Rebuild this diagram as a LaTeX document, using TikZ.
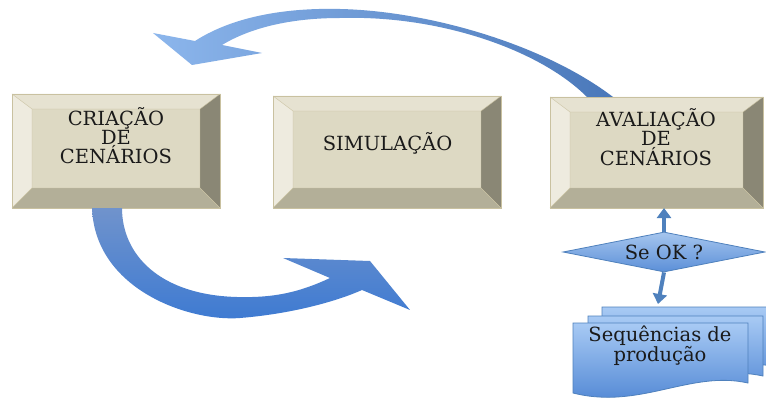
\documentclass[tikz,border=0pt]{standalone}
\usepackage{fontspec}
\setmainfont{DejaVu Serif}
\usetikzlibrary{calc,shapes.geometric,arrows.meta}
\definecolor{face}{HTML}{DDD9C3}
\definecolor{bvtop}{HTML}{E6E2D1}
\definecolor{bvleft}{HTML}{EEEBDF}
\definecolor{bvright}{HTML}{8A8775}
\definecolor{bvbot}{HTML}{B3AF98}
\definecolor{bvline}{HTML}{C9C1A0}
\definecolor{txt}{HTML}{1A1A1A}
\definecolor{arr}{HTML}{4F81BD}
\definecolor{dlight}{HTML}{A6C6EE}
\definecolor{ddark}{HTML}{5B8FD8}
\definecolor{doclight}{HTML}{A8CAF4}
\definecolor{docdark}{HTML}{4A82D2}
\definecolor{bigA}{HTML}{8CB6EC}
\definecolor{bigB}{HTML}{4A78BA}
\definecolor{bigC}{HTML}{7093CC}
\definecolor{bigD}{HTML}{3D7AD2}
\newcommand\bevelbox[1]{%
  \coordinate (#1-a) at (#1.north west);
  \coordinate (#1-b) at (#1.north east);
  \coordinate (#1-c) at (#1.south east);
  \coordinate (#1-d) at (#1.south west);
  \coordinate (#1-A) at ($(#1.north west)+(20,15)$);
  \coordinate (#1-B) at ($(#1.north east)+(-20,15)$);
  \coordinate (#1-C) at ($(#1.south east)+(-20,-20)$);
  \coordinate (#1-D) at ($(#1.south west)+(20,-20)$);
  \fill[bvtop] (#1-a) -- (#1-b) -- (#1-B) -- (#1-A) -- cycle;
  \fill[bvleft] (#1-a) -- (#1-A) -- (#1-D) -- (#1-d) -- cycle;
  \fill[bvright] (#1-b) -- (#1-c) -- (#1-C) -- (#1-B) -- cycle;
  \fill[bvbot] (#1-d) -- (#1-D) -- (#1-C) -- (#1-c) -- cycle;
  \fill[face] (#1-A) -- (#1-B) -- (#1-C) -- (#1-D) -- cycle;
  \draw[bvline, line width=0.6pt] (#1-a) -- (#1-b) -- (#1-c) -- (#1-d) -- cycle;
  \draw[bvline, line width=0.4pt] (#1-A) -- (#1-B) -- (#1-C) -- (#1-D) -- cycle
    (#1-a) -- (#1-A) (#1-b) -- (#1-B) (#1-c) -- (#1-C) (#1-d) -- (#1-D);
}
\tikzset{
  boxnode/.style={rectangle, inner sep=0pt, outer sep=0pt},
  boxtext/.style={align=center, text=txt, font=\fontsize{19.5}{17}\selectfont, inner sep=0pt},
  smallarrow/.style={draw=arr, line width=4pt, -{Triangle[width=14pt,length=10pt]}},
  docshape/.style={top color=doclight, bottom color=docdark, draw=arr, line width=0.8pt},
}
\begin{document}
\begin{tikzpicture}[x=1pt,y=-1pt]
\useasboundingbox (0,0) rectangle (766,401);
\fill[white] (0,0) rectangle (766,401);

% boxes
\node[boxnode, minimum width=208pt, minimum height=114pt] (b1) at (116,151) {};
\node[boxnode, minimum width=228pt, minimum height=112pt] (b2) at (387,152) {};
\node[boxnode, minimum width=213pt, minimum height=111pt] (b3) at (656.5,152.5) {};
\bevelbox{b1}
\bevelbox{b2}
\bevelbox{b3}

\node[boxtext, anchor=base] (t1) at (116,163.3) {CRIAÇÃO\\DE\\CENÁRIOS};
\node[boxtext, anchor=base] (t2) at (387.5,150) {SIMULAÇÃO};
\node[boxtext, anchor=base] (t3) at (656,165) {AVALIAÇÃO\\DE\\CENÁRIOS};

% top curved arrow (from evaluation back to creation)
\shade[left color=bigA, right color=bigB]
  (195,41) .. controls (240,12) and (300,8) .. (340,9)
  .. controls (430,11) and (545,45) .. (613,97)
  -- (587,97)
  .. controls (540,50) and (440,15) .. (340,18)
  .. controls (290,18) and (250,28) .. (222,45)
  -- (262,53) -- (192,65) -- (153,33) -- cycle;

% bottom curved arrow (from creation to simulation)
\shade[top color=bigC, bottom color=bigD]
  (92,208) .. controls (95,290) and (190,322) .. (240,318)
  .. controls (290,314) and (335,302) .. (362,290)
  -- (410,310) -- (370,261) -- (283,258) -- (330,278)
  .. controls (300,292) and (275,298) .. (237,297)
  .. controls (160,295) and (122,255) .. (122,208) -- cycle;

% documents stack
\begin{scope}[shift={(29,-16)}]
  \path[docshape] (573,323) -- (748,323) -- (748,383) .. controls (690,370) and (640,410) .. (573,393) -- cycle;
\end{scope}
\begin{scope}[shift={(15,-7)}]
  \path[docshape] (573,323) -- (748,323) -- (748,383) .. controls (690,370) and (640,410) .. (573,393) -- cycle;
\end{scope}
\path[docshape] (573,323) -- (748,323) -- (748,383) .. controls (690,370) and (640,410) .. (573,393) -- cycle;
\coordinate (dtop) at (658,304);
\node[boxtext, anchor=base] (t4) at (660,361.7) {Sequências de\\produção};

% decision
\node[diamond, aspect=5, minimum width=202pt, minimum height=40pt, inner sep=0pt,
      draw=arr, line width=0.8pt, top color=dlight, bottom color=ddark, boxtext] (ok) at (664,252) {Se OK ?};

\draw[smallarrow] (ok.north) -- (ok.north |- b3.south);
\draw[smallarrow] (ok.south) -- (dtop);
\end{tikzpicture}
\end{document}
